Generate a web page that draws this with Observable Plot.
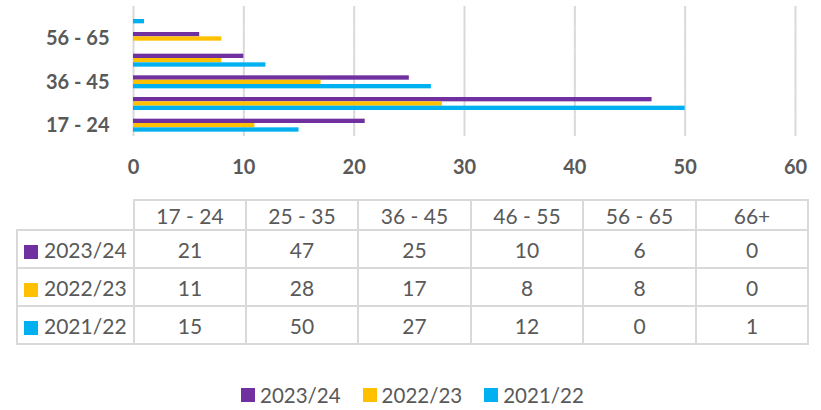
<!DOCTYPE html>
<html>
<head>
<meta charset="utf-8">
<script src="https://cdn.jsdelivr.net/npm/d3@7"></script>
<script src="https://cdn.jsdelivr.net/npm/@observablehq/plot@0.6"></script>
<style>
  html, body { margin: 0; padding: 0; background: #fff; }
  #wrap { position: relative; width: 821px; height: 410px; overflow: hidden; font-family: Lato, "Noto Sans", sans-serif; color: #595959; }
  #chart { position: absolute; left: 0; top: 0; }
  #tbl { position: absolute; left: 16px; top: 199px; }
  table { border-collapse: collapse; table-layout: fixed; font-size: 21px; color: #595959; }
  td, th { border: 2px solid #D9D9D9; padding: 0; text-align: center; font-weight: normal; box-sizing: border-box; white-space: nowrap; }
  th.blank { border-top: hidden; border-left: hidden; }
  tr.head { height: 30px; }
  tr.row { height: 38px; }
  td.lab { text-align: left; padding-left: 6px; }
  .sw { display: inline-block; width: 14px; height: 14px; margin-right: 6px; vertical-align: -1px; }
  #legend { position: absolute; left: 241px; top: 383px; display: flex; font-size: 20.5px; color: #595959; }
  #legend .it { display: flex; align-items: center; margin-right: 22px; }
  #legend .sw { margin-right: 5px; }
</style>
</head>
<body>
<div id="wrap">
  <div id="chart"></div>
  <div id="tbl"></div>
  <div id="legend"></div>
</div>
<script>
const categories = ["17 - 24", "25 - 35", "36 - 45", "46 - 55", "56 - 65", "66+"];
const series = ["2023/24", "2022/23", "2021/22"];
const values2023_24 = [21, 47, 25, 10, 6, 0];
const values2022_23 = [11, 28, 17, 8, 8, 0];
const values2021_22 = [15, 50, 27, 12, 0, 1];
const colors = ["#7030A0", "#FFC000", "#00B0F0"];
const shownLabels = ["17 - 24", "36 - 45", "56 - 65"];
const xTicks = [0, 10, 20, 30, 40, 50, 60];

const seriesValues = [values2023_24, values2022_23, values2021_22];
const data = [];
categories.forEach((c, i) => {
  series.forEach((s, j) => {
    data.push({category: c, series: s, value: seriesValues[j][i]});
  });
});

const plot = Plot.plot({
  width: 821,
  height: 190,
  marginLeft: 133,
  marginRight: 26,
  marginTop: 6,
  marginBottom: 54,
  style: {fontSize: "20px", fontWeight: "bold", fontFamily: "Lato, 'Noto Sans', sans-serif", color: "#595959", background: "white"},
  x: {domain: [0, 60], ticks: xTicks, tickSize: 0, tickPadding: 23, label: null},
  y: {domain: series, axis: null, paddingInner: 0, paddingOuter: 1, round: false},
  fy: {domain: categories.slice().reverse(), padding: 0, round: false, axis: "left", tickSize: 0, tickPadding: 24, label: null,
       tickFormat: d => shownLabels.includes(d) ? d : ""},
  color: {domain: series, range: colors},
  marks: [
    Plot.gridX(xTicks, {stroke: "#D9D9D9", strokeOpacity: 1, strokeWidth: 2}),
    Plot.barX(data, {x: "value", y: "series", fy: "category", fill: "series", insetTop: 0, insetBottom: 0})
  ]
});
document.getElementById("chart").appendChild(plot);

// data table
const colW = [117, 112, 112, 113, 112, 113, 112];
let html = "<table><colgroup>" + colW.map(w => `<col style="width:${w}px">`).join("") + "</colgroup>";
html += '<tr class="head"><th class="blank"></th>' + categories.map(c => `<th>${c}</th>`).join("") + "</tr>";
series.forEach((s, j) => {
  html += `<tr class="row"><td class="lab"><span class="sw" style="background:${colors[j]}"></span>${s}</td>` +
    seriesValues[j].map(v => `<td>${v}</td>`).join("") + "</tr>";
});
html += "</table>";
document.getElementById("tbl").innerHTML = html;

// legend
document.getElementById("legend").innerHTML = series.map((s, j) =>
  `<div class="it"><span class="sw" style="background:${colors[j]}"></span>${s}</div>`).join("");
</script>
</body>
</html>
